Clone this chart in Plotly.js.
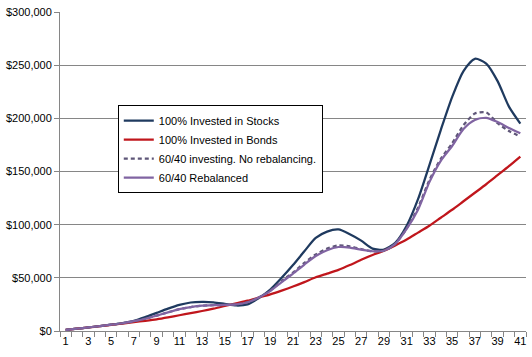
<!DOCTYPE html>
<html>
<head>
<meta charset="utf-8">
<script src="https://cdn.plot.ly/plotly-3.0.1.min.js"></script>
<style>html,body{margin:0;padding:0;background:#fff;}#chart{width:532px;height:357px;}</style>
</head>
<body>
<div id="chart"></div>
<script>
var years = [];
for (var i = 1; i <= 41; i++) years.push(i);
var xTickVals = [1,3,5,7,9,11,13,15,17,19,21,23,25,27,29,31,33,35,37,39,41];
var xTickText = ["1","3","5","7","9","11","13","15","17","19","21","23","25","27","29","31","33","35","37","39","41"];
var yTickVals = [0,50000,100000,150000,200000,250000,300000];
var yTickText = ["$0","$50,000","$100,000","$150,000","$200,000","$250,000","$300,000"];

var stocks = [1000,2200,3400,4600,6000,7500,9500,13000,17000,21000,24500,26800,27300,27000,25500,24000,25000,31000,39000,50000,62000,75000,87500,93500,95500,91000,85000,77500,76500,83000,99000,124000,156000,189000,220000,244500,256000,251500,235000,211000,195000];
var bonds = [1000,2200,3300,4500,5700,7000,8300,9600,11000,12800,14800,16800,18800,21000,23500,26000,28500,31500,34500,38000,41800,46000,50500,54000,57500,62000,67000,71500,75500,80500,86000,92500,99000,106500,114000,122000,130000,138000,146500,155000,164000];
var noRebal = [1000,2200,3400,4600,5900,7300,9200,11500,14500,17500,20500,22500,23800,24300,24500,25000,27000,31500,38000,47000,55000,64000,72000,77500,80500,79500,77000,75000,75500,82000,96500,116000,142000,162000,176500,193500,204500,205500,195500,188000,183000];
var rebal = [1000,2200,3400,4600,5900,7300,9200,11500,14500,17500,20500,22500,23800,24300,24500,25000,27000,31500,37500,46000,54000,62500,70500,76000,79000,78500,76500,75000,75500,82000,96000,114000,140000,160000,174000,190000,198500,200500,196500,191000,186000];

var names = ["100% Invested in Stocks","100% Invested in Bonds","60/40 investing. No rebalancing.","60/40 Rebalanced"];

function tr(y, name, color, dash) {
  return {x: years, y: y, name: name, type: 'scatter', mode: 'lines',
    line: {color: color, width: 2.25, dash: dash || 'solid', shape: 'spline', smoothing: 0.7},
    hoverinfo: 'skip'};
}

var data = [
  tr(stocks, names[0], '#1F3A5F'),
  tr(bonds, names[1], '#C0161C'),
  tr(noRebal, names[2], '#5E5678', '4px,3px'),
  tr(rebal, names[3], '#8064A2')
];

var layout = {
  width: 532, height: 357,
  margin: {l: 60, r: 6, t: 12, b: 26},
  paper_bgcolor: '#fff', plot_bgcolor: '#fff',
  font: {family: 'Liberation Sans, Arial, sans-serif', size: 11, color: '#000'},
  showlegend: true,
  legend: {x: 0.124, y: 0.708, xanchor: 'left', yanchor: 'top',
    bgcolor: '#fff', bordercolor: '#000', borderwidth: 1,
    font: {family: 'Liberation Sans, Arial, sans-serif', size: 11, color: '#000'},
    tracegroupgap: 0, itemwidth: 30},
  xaxis: {range: [0.5, 41.5], tickmode: 'array', tickvals: xTickVals, ticktext: xTickText,
    ticks: '', showgrid: false, zeroline: false, showline: true, linecolor: '#868686', linewidth: 1,
    tickfont: {size: 11, color: '#000'},
    minor: {tickmode: 'linear', tick0: 0.5, dtick: 1, ticks: 'outside', ticklen: 5, tickcolor: '#868686', showgrid: false}},
  yaxis: {range: [0, 300000], tickmode: 'array', tickvals: yTickVals, ticktext: yTickText,
    ticks: 'outside', ticklen: 5, tickcolor: '#868686', showgrid: true, gridcolor: '#868686', gridwidth: 1,
    zeroline: false, showline: true, linecolor: '#868686', linewidth: 1,
    tickfont: {size: 11, color: '#000'}}
};

Plotly.newPlot('chart', data, layout, {staticPlot: true, displayModeBar: false});
</script>
</body>
</html>
